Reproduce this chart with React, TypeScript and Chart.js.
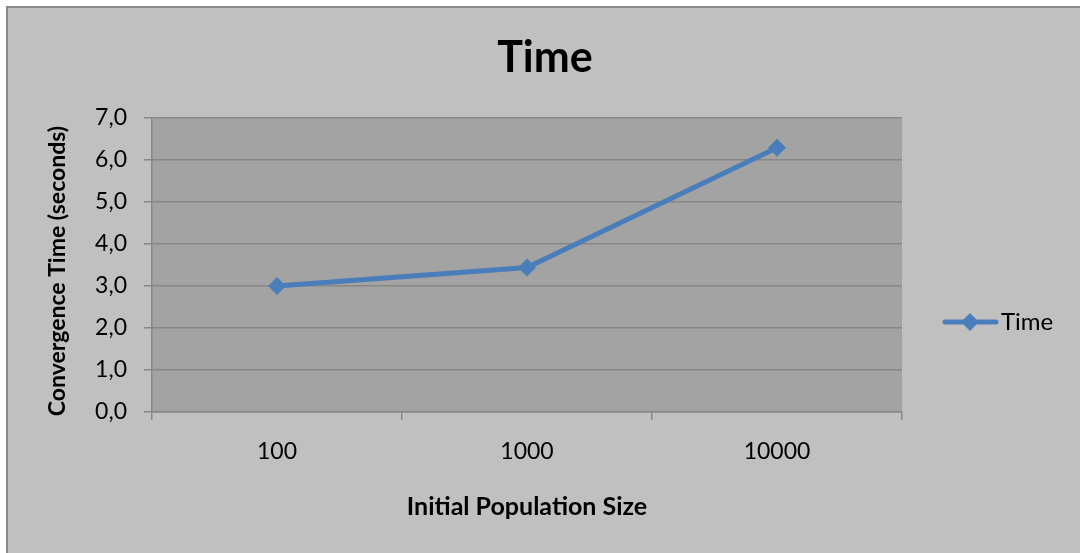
import React, { useEffect, useRef } from 'react';
import { Chart, registerables } from 'chart.js';

Chart.register(...registerables);

// Series data
const categories = ['100', '1000', '10000'];
const timeValues = [3.0, 3.44, 6.29];
const seriesName = 'Time';

// Text
const chartTitle = 'Time';
const xAxisTitle = 'Initial Population Size';
const yAxisTitle = 'Convergence Time (seconds)';

// Value axis range
const yMin = 0;
const yMax = 7;
const yStep = 1;

const FONT = "Lato, 'Open Sans', sans-serif";
const LINE_BLUE = '#4a7ebb';
const FRAME_BG = '#c0c0c0';
const PLOT_BG = '#a3a3a3';
const GRID = '#878787';

const W = 1080;
const H = 553;

const decor = {
  id: 'decor',
  beforeDraw(chart: any) {
    const { ctx, chartArea } = chart;
    ctx.save();
    ctx.fillStyle = '#ffffff';
    ctx.fillRect(0, 0, W, H);
    ctx.fillStyle = FRAME_BG;
    ctx.fillRect(6, 6, W, H);
    ctx.strokeStyle = '#8a8a8a';
    ctx.lineWidth = 2;
    ctx.beginPath();
    ctx.moveTo(7, H);
    ctx.lineTo(7, 7);
    ctx.lineTo(W, 7);
    ctx.stroke();
    ctx.fillStyle = PLOT_BG;
    ctx.fillRect(chartArea.left, chartArea.top, chartArea.right - chartArea.left, chartArea.bottom - chartArea.top);
    ctx.restore();
  },
  afterDraw(chart: any) {
    const { ctx, chartArea } = chart;
    ctx.save();
    ctx.fillStyle = '#000000';

    // chart title
    ctx.font = `bold 43px ${FONT}`;
    ctx.textAlign = 'center';
    ctx.textBaseline = 'alphabetic';
    ctx.fillText(chartTitle, 545, 72);

    // x axis title
    ctx.font = `bold 25px ${FONT}`;
    ctx.fillText(xAxisTitle, (chartArea.left + chartArea.right) / 2, 515);

    // y axis title
    ctx.font = `bold 23px ${FONT}`;
    ctx.save();
    ctx.translate(65, (chartArea.top + chartArea.bottom) / 2 + 6);
    ctx.rotate(-Math.PI / 2);
    ctx.fillText(yAxisTitle, 0, 0);
    ctx.restore();

    // legend: line with diamond marker and label
    const ly = 322;
    ctx.strokeStyle = LINE_BLUE;
    ctx.lineWidth = 5;
    ctx.lineCap = 'round';
    ctx.beginPath();
    ctx.moveTo(945, ly);
    ctx.lineTo(996, ly);
    ctx.stroke();
    ctx.fillStyle = LINE_BLUE;
    ctx.beginPath();
    ctx.moveTo(970 - 9, ly);
    ctx.lineTo(970, ly - 9);
    ctx.lineTo(970 + 9, ly);
    ctx.lineTo(970, ly + 9);
    ctx.closePath();
    ctx.fill();
    ctx.fillStyle = '#000000';
    ctx.font = `24px ${FONT}`;
    ctx.textAlign = 'left';
    ctx.fillText(seriesName, 1001, 330);
    ctx.restore();
  },
};

export default function App() {
  const canvasRef = useRef<HTMLCanvasElement | null>(null);

  useEffect(() => {
    const canvas = canvasRef.current;
    if (!canvas) return;
    const chart = new Chart(canvas, {
      type: 'line',
      data: {
        labels: categories,
        datasets: [
          {
            label: seriesName,
            data: timeValues,
            borderColor: LINE_BLUE,
            backgroundColor: LINE_BLUE,
            borderWidth: 5,
            tension: 0,
            pointStyle: 'rectRot',
            pointRadius: 9,
            pointHoverRadius: 9,
            pointBorderWidth: 0,
            pointBackgroundColor: LINE_BLUE,
            fill: false,
          },
        ],
      },
      options: {
        responsive: false,
        animation: false,
        devicePixelRatio: 1,
        layout: { padding: { top: 118, right: 178, left: 0, bottom: 0 } },
        plugins: {
          legend: { display: false },
          title: { display: false },
          tooltip: { enabled: false },
        },
        scales: {
          x: {
            type: 'category',
            offset: true,
            grid: {
              offset: true,
              drawOnChartArea: false,
              drawTicks: true,
              tickLength: 8,
              color: GRID,
              lineWidth: 1.5,
            },
            border: { display: true, color: GRID, width: 1.5 },
            ticks: {
              color: '#000000',
              font: { family: FONT, size: 23 },
              padding: 18,
              maxRotation: 0,
            },
            afterFit(scale: any) {
              scale.height = 141;
            },
          },
          y: {
            min: yMin,
            max: yMax,
            grid: {
              color: GRID,
              lineWidth: 1.5,
              drawTicks: true,
              tickLength: 8,
            },
            border: { display: true, color: GRID, width: 1.5 },
            ticks: {
              stepSize: yStep,
              color: '#000000',
              font: { family: FONT, size: 23 },
              padding: 17,
              callback: (v: any) => Number(v).toFixed(1).replace('.', ','),
            },
            afterFit(scale: any) {
              scale.width = 152;
            },
          },
        },
      },
      plugins: [decor],
    });
    return () => chart.destroy();
  }, []);

  return (
    <div style={{ position: 'fixed', left: 0, top: 0, width: W, height: H, overflow: 'hidden', background: '#fff' }}>
      <canvas ref={canvasRef} width={W} height={H} style={{ display: 'block', width: W, height: H }} />
    </div>
  );
}
